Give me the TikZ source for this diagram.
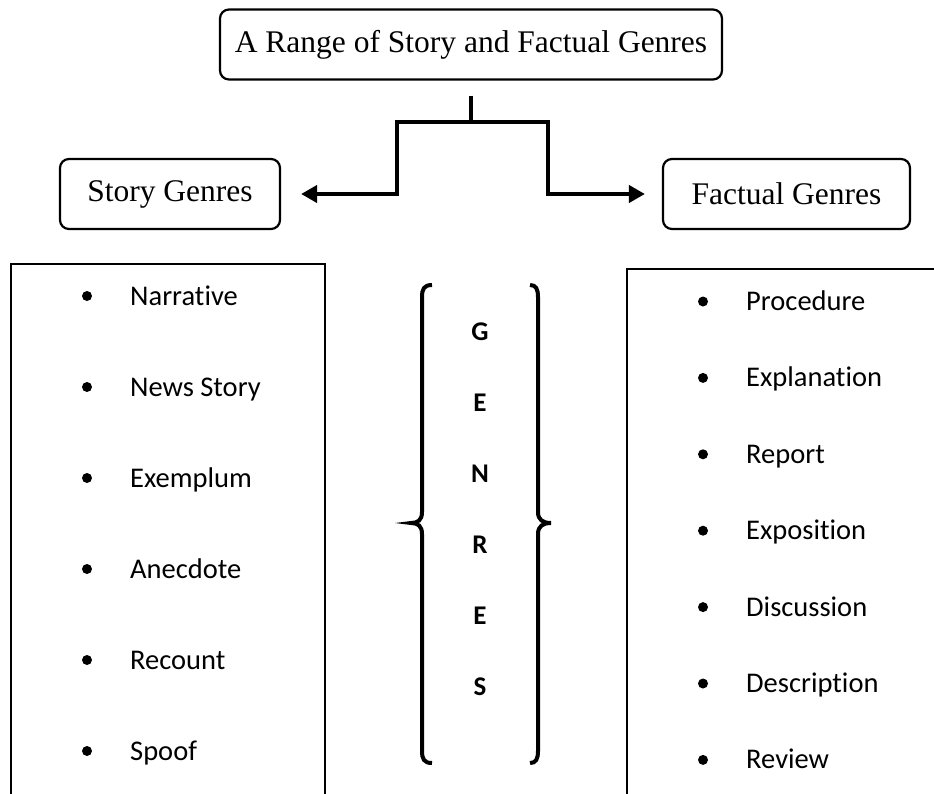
\documentclass[tikz,border=0pt]{standalone}
\usepackage{fontspec}
\setmainfont{Liberation Serif}
\newfontfamily\listfont[Ligatures=NoCommon]{Carlito}
\usetikzlibrary{arrows.meta, positioning, calc}

\begin{document}
\begin{tikzpicture}[
    x=1pt, y=-1pt,
    genre/.style={rectangle, rounded corners=9pt, draw, line width=2.2pt, minimum height=70pt, font=\fontsize{31.5}{36}\selectfont},
    line/.style={line width=4pt},
    arrow/.style={line width=4pt, -{Triangle[length=16pt,width=17pt]}},
    listbox/.style={line width=2.2pt},
    bullet/.style={circle, fill, inner sep=0pt, minimum size=10pt},
    item/.style={anchor=base west, inner sep=0pt, font=\listfont\fontsize{28.5}{32}\selectfont},
    letter/.style={anchor=base, inner sep=0pt, font=\listfont\bfseries\fontsize{27}{30}\selectfont},
    brace/.style={line width=4pt}
]
    \useasboundingbox (0,0) rectangle (934,793);

    % Heading and the two genre groups
    \node[genre, minimum width=502pt] (title) at (471,44.5) {A Range of Story and Factual Genres};
    \node[genre, minimum width=220pt] (story) at (170,194) {Story Genres};
    \node[genre, minimum width=247pt] (factual) at (786.5,194) {Factual Genres};

    % Connectors
    \coordinate (fork) at (471,122);
    \coordinate (lbend) at (397,122);
    \coordinate (rbend) at (548,122);
    \draw[line] ([yshift=-15pt]title.south) -- (fork);
    \draw[arrow] (fork) -- (lbend) |- ([xshift=20pt]story.east);
    \draw[arrow] (fork) -- (rbend) |- ([xshift=-17pt]factual.west);

    % List boxes (open at the bottom)
    \draw[listbox] (11,800) |- (325,264) -- (325,800);
    \draw[listbox] (627,800) |- (940,269);

    % Story genres
    \foreach \txt [count=\i from 0] in {Narrative, News Story, Exemplum, Anecdote, Recount, Spoof} {
        \node[bullet] (sb\i) at (87,296+91*\i) {};
        \node[item] (st\i) at (130,305+91*\i) {\txt};
    }

    % Factual genres
    \foreach \txt [count=\i from 0] in {Procedure, Explanation, Report, Exposition, Discussion, Description, Review} {
        \node[bullet] (fb\i) at (703,301.5+76.4*\i) {};
        \node[item] (ft\i) at (746,310.5+76.4*\i) {\txt};
    }

    % Braces
    \draw[brace] (432,285) .. controls (424,285) and (422,289) .. (422,297) -- (422,512)
        .. controls (422,520) and (418,523) .. (411,523)
        .. controls (418,523) and (422,526) .. (422,534) -- (422,751)
        .. controls (422,759) and (424,763) .. (432,763);
    \draw[brace] (530,285) .. controls (536,285) and (538,289) .. (538,297) -- (538,512)
        .. controls (538,520) and (543,523) .. (551,523)
        .. controls (543,523) and (538,526) .. (538,534) -- (538,751)
        .. controls (538,759) and (536,763) .. (530,763);

    % Vertical word
    \foreach \ltr [count=\i from 0] in {G, E, N, R, E, S} {
        \node[letter] (l\i) at (480,340+71*\i) {\ltr};
    }
\end{tikzpicture}
\end{document}
